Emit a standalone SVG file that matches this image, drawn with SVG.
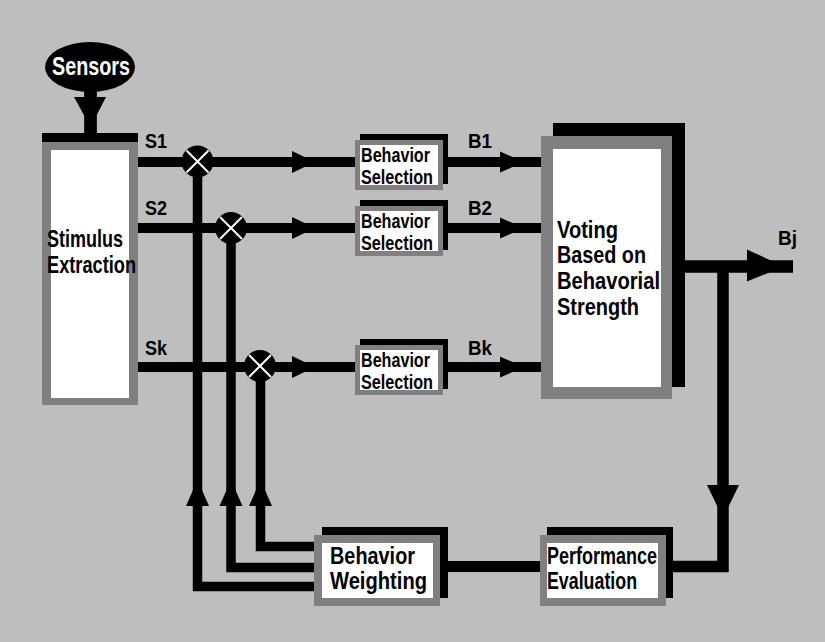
<svg xmlns="http://www.w3.org/2000/svg" width="825" height="642" viewBox="0 0 825 642">
  <style>
    .bg { fill: #bebebe; }
    .shadow { fill: #000; }
    .frame { fill: #808080; }
    .face { fill: #fff; }
    .t { font-family: "Liberation Sans", Arial, sans-serif; font-weight: bold; fill: #000; }
    .w { fill: #fff; }
    .wire { fill: none; stroke: #000; stroke-linejoin: miter; stroke-linecap: butt; }
    .ah { fill: #000; }
    .mult circle { fill: #000; }
    .mult path { stroke: #fff; stroke-width: 2; fill: none; }
  </style>

  <rect class="bg" x="0" y="0" width="825" height="642"/>

  <!-- signal lines and feedback paths -->
  <g id="connectors">
    <!-- sensors into stimulus extraction -->
    <path class="wire" d="M90.5 90 V134" stroke-width="12.7"/>
    <polygon class="ah" points="74,97 106,97 90.5,127"/>

    <!-- stimulus channels -->
    <path class="wire" d="M138 162 H356" stroke-width="10"/>
    <path class="wire" d="M138 228 H356" stroke-width="10"/>
    <path class="wire" d="M138 367 H356" stroke-width="10"/>
    <polygon class="ah" points="292,151 292,173 315,162"/>
    <polygon class="ah" points="292,217 292,239 315,228"/>
    <polygon class="ah" points="292,356 292,378 315,367"/>

    <!-- behavior outputs into voting -->
    <path class="wire" d="M447 162 H542" stroke-width="10"/>
    <path class="wire" d="M447 228 H542" stroke-width="10"/>
    <path class="wire" d="M447 367 H542" stroke-width="10"/>
    <polygon class="ah" points="500,151.5 500,172.5 524,162"/>
    <polygon class="ah" points="500,217.5 500,238.5 524,228"/>
    <polygon class="ah" points="500,356.5 500,377.5 524,367"/>

    <!-- selected behavior output -->
    <path class="wire" d="M684 266.5 H793" stroke-width="12.7"/>
    <polygon class="ah" points="747,249.5 747,281.5 784,266.5"/>

    <!-- performance loop -->
    <path class="wire" d="M723 266.5 V566.5 H672" stroke-width="11.5"/>
    <polygon class="ah" points="707,485 739,485 723,518"/>
    <path class="wire" d="M447 566.5 H541" stroke-width="11"/>

    <!-- weighting feedback to the multipliers -->
    <path class="wire" d="M315 546.5 H260.5 V366" stroke-width="9.5"/>
    <path class="wire" d="M315 567.5 H231 V228" stroke-width="9.5"/>
    <path class="wire" d="M315 586.5 H197.5 V161" stroke-width="9.5"/>
    <polygon class="ah" points="260.5,480 249,506 272,506"/>
    <polygon class="ah" points="231,480 219.5,506 242.5,506"/>
    <polygon class="ah" points="197.5,480 186,506 209,506"/>
  </g>

  <!-- multipliers -->
  <g id="mult1" class="mult">
    <circle cx="197.5" cy="161.5" r="16"/>
    <path d="M186.5 150.5 L208.5 172.5 M208.5 150.5 L186.5 172.5"/>
  </g>
  <g id="mult2" class="mult">
    <circle cx="231" cy="228" r="16"/>
    <path d="M220 217 L242 239 M242 217 L220 239"/>
  </g>
  <g id="mult3" class="mult">
    <circle cx="260" cy="366" r="16"/>
    <path d="M249 355 L271 377 M271 355 L249 377"/>
  </g>

  <g id="sensors">
    <ellipse cx="90" cy="67" rx="45" ry="25" fill="#000"/>
    <text class="t w" x="52" y="75" font-size="26" textLength="78" lengthAdjust="spacingAndGlyphs">Sensors</text>
  </g>

  <g id="stimulus-extraction">
    <rect class="shadow" x="42" y="133" width="96" height="30"/>
    <rect class="frame" x="42" y="142" width="96" height="263"/>
    <rect class="face" x="51" y="150" width="78" height="248"/>
    <text class="t" x="47" y="247" font-size="24" textLength="76" lengthAdjust="spacingAndGlyphs">Stimulus</text>
    <text class="t" x="47" y="273" font-size="24" textLength="89" lengthAdjust="spacingAndGlyphs">Extraction</text>
  </g>

  <text class="t" x="145" y="148" font-size="21" textLength="22" lengthAdjust="spacingAndGlyphs">S1</text>
  <text class="t" x="145" y="215" font-size="21" textLength="22" lengthAdjust="spacingAndGlyphs">S2</text>
  <text class="t" x="145" y="355" font-size="21" textLength="22" lengthAdjust="spacingAndGlyphs">Sk</text>

  <g id="selection1">
    <rect class="shadow" x="360" y="134" width="88" height="50"/>
    <rect class="frame" x="355" y="140" width="88" height="50"/>
    <rect class="face" x="360" y="145" width="78" height="40"/>
    <text class="t" x="361" y="162" font-size="21" textLength="69" lengthAdjust="spacingAndGlyphs">Behavior</text>
    <text class="t" x="361" y="184" font-size="21" textLength="72" lengthAdjust="spacingAndGlyphs">Selection</text>
  </g>
  <g id="selection2">
    <rect class="shadow" x="360" y="200" width="88" height="50"/>
    <rect class="frame" x="355" y="206" width="88" height="50"/>
    <rect class="face" x="360" y="211" width="78" height="40"/>
    <text class="t" x="361" y="228" font-size="21" textLength="69" lengthAdjust="spacingAndGlyphs">Behavior</text>
    <text class="t" x="361" y="250" font-size="21" textLength="72" lengthAdjust="spacingAndGlyphs">Selection</text>
  </g>
  <g id="selection3">
    <rect class="shadow" x="360" y="339" width="88" height="50"/>
    <rect class="frame" x="355" y="345" width="88" height="50"/>
    <rect class="face" x="360" y="350" width="78" height="40"/>
    <text class="t" x="361" y="367" font-size="21" textLength="69" lengthAdjust="spacingAndGlyphs">Behavior</text>
    <text class="t" x="361" y="389" font-size="21" textLength="72" lengthAdjust="spacingAndGlyphs">Selection</text>
  </g>

  <text class="t" x="468" y="148" font-size="21" textLength="24" lengthAdjust="spacingAndGlyphs">B1</text>
  <text class="t" x="468" y="215" font-size="21" textLength="24" lengthAdjust="spacingAndGlyphs">B2</text>
  <text class="t" x="468" y="355" font-size="21" textLength="24" lengthAdjust="spacingAndGlyphs">Bk</text>

  <g id="voting">
    <rect class="shadow" x="553" y="123" width="132" height="264"/>
    <rect class="frame" x="541" y="136" width="131" height="263"/>
    <rect class="face" x="553" y="149" width="108" height="238"/>
    <text class="t" x="557" y="238" font-size="23.5" textLength="61" lengthAdjust="spacingAndGlyphs">Voting</text>
    <text class="t" x="557" y="263" font-size="23.5" textLength="89" lengthAdjust="spacingAndGlyphs">Based on</text>
    <text class="t" x="557" y="289" font-size="23.5" textLength="103" lengthAdjust="spacingAndGlyphs">Behavorial</text>
    <text class="t" x="557" y="315" font-size="23.5" textLength="82" lengthAdjust="spacingAndGlyphs">Strength</text>
  </g>

  <text class="t" x="778" y="245" font-size="21" textLength="19" lengthAdjust="spacingAndGlyphs">Bj</text>

  <g id="behavior-weighting">
    <rect class="shadow" x="322" y="527" width="126" height="71"/>
    <rect class="frame" x="314" y="535" width="126" height="71"/>
    <rect class="face" x="322" y="543" width="111" height="55"/>
    <text class="t" x="330" y="564" font-size="24" textLength="85" lengthAdjust="spacingAndGlyphs">Behavior</text>
    <text class="t" x="330" y="589" font-size="24" textLength="97" lengthAdjust="spacingAndGlyphs">Weighting</text>
  </g>

  <g id="performance-evaluation">
    <rect class="shadow" x="547" y="527" width="126" height="71"/>
    <rect class="frame" x="540" y="535" width="126" height="71"/>
    <rect class="face" x="547" y="543" width="111" height="55"/>
    <text class="t" x="547" y="564" font-size="24" textLength="110" lengthAdjust="spacingAndGlyphs">Performance</text>
    <text class="t" x="547" y="589" font-size="24" textLength="90" lengthAdjust="spacingAndGlyphs">Evaluation</text>
  </g>
</svg>
